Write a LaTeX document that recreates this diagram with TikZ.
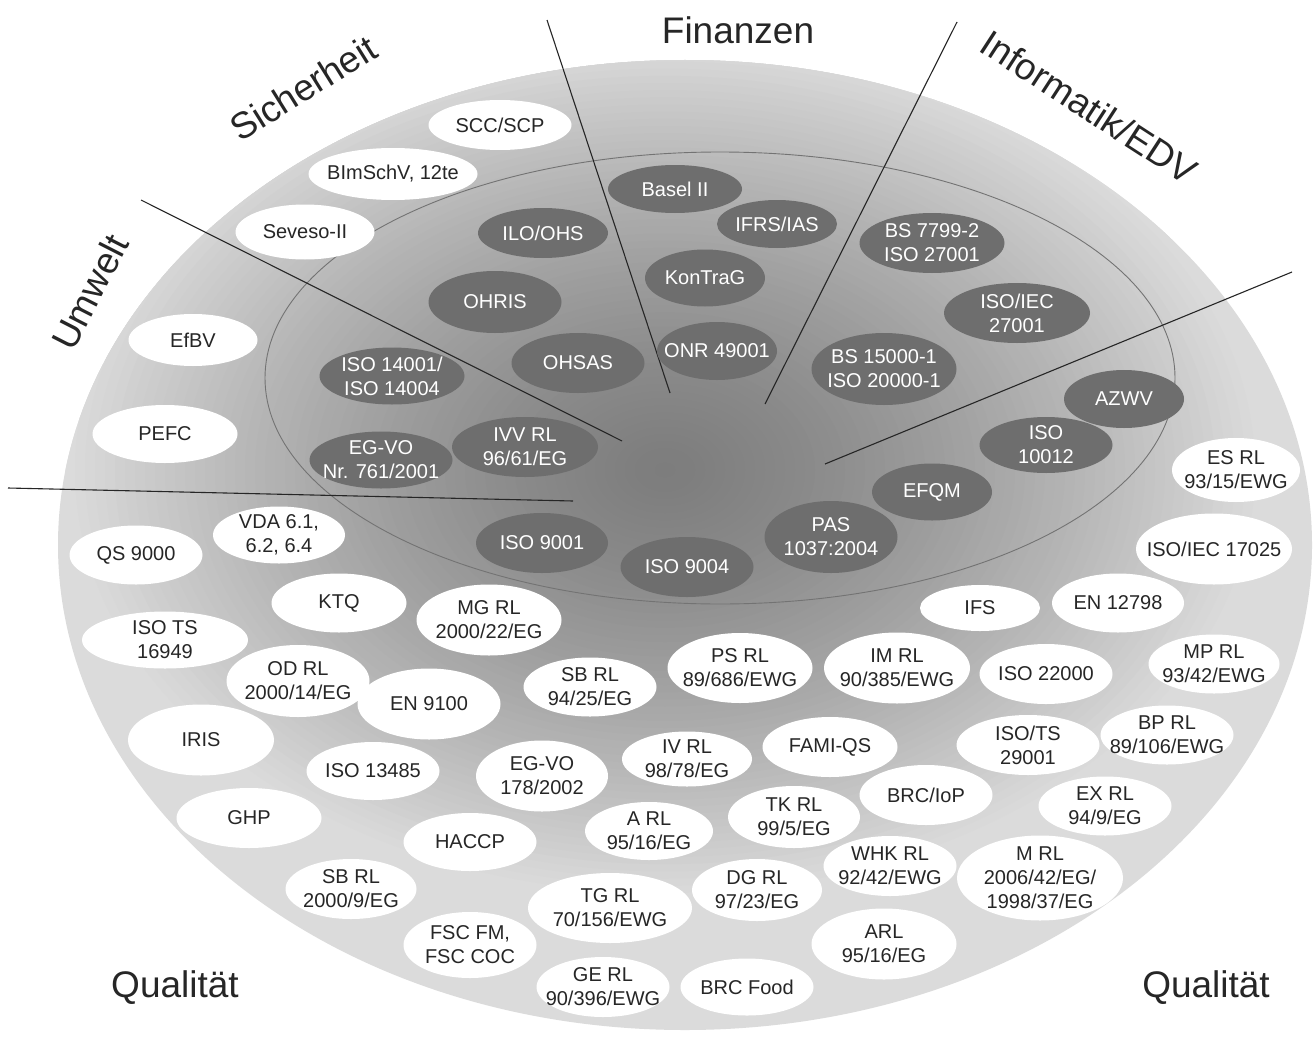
\documentclass[tikz,border=0pt]{standalone}
\usepackage{fontspec}
\setmainfont{Liberation Sans}
\usetikzlibrary{shapes.geometric}
\definecolor{dk}{rgb}{0.43,0.43,0.43}
\definecolor{txt}{rgb}{0.15,0.15,0.15}
\definecolor{ring}{rgb}{0.86,0.86,0.86}
\tikzset{
  blob/.style={ellipse, inner xsep=-30pt, inner ysep=-25pt, outer sep=0pt, align=center,
    font=\fontsize{20}{24}\selectfont},
  dkb/.style={blob, fill=dk, text=white},
  wtb/.style={blob, fill=white, text=txt},
  sz/.style 2 args={minimum width=#1, minimum height=#2},
  sector/.style={font=\fontsize{37}{40}\selectfont, text=txt},
  divider/.style={draw=txt, line width=1.1pt},
}
\begin{document}
\begin{tikzpicture}[x=1pt,y=-1pt]
\useasboundingbox (0,0) rectangle (1316,1038);
\fill[white] (0,0) rectangle (1316,1038);
% outer disc with hub gradient
\fill[ring] (685,545) ellipse [x radius=627, y radius=485];
\begin{scope}
  \clip (685,545) ellipse [x radius=627, y radius=485];
  \foreach \i in {60,59,...,1}{
    \pgfmathsetmacro{\f}{\i/60}
    \pgfmathsetmacro{\g}{0.49+0.37*(\f^1.4)}
    \fill[color={rgb,1:red,\g;green,\g;blue,\g}] (665,470) ellipse [x radius=600*\f, y radius=430*\f];
  }
\end{scope}
% inner ring outline
\draw[draw=black!55, line width=0.9pt] (720,378) ellipse [x radius=455, y radius=226];

% dividers
\coordinate (d1a) at (141,200); \coordinate (d1b) at (622,441);
\coordinate (d2a) at (8,488);   \coordinate (d2b) at (573,501);
\coordinate (d3a) at (547,20);  \coordinate (d3b) at (670,393);
\coordinate (d4a) at (957,22);  \coordinate (d4b) at (765,404);
\coordinate (d5a) at (1292,272);\coordinate (d5b) at (825,464);
\draw[divider] (d1a) -- (d1b);
\draw[divider] (d2a) -- (d2b);
\draw[divider] (d3a) -- (d3b);
\draw[divider] (d4a) -- (d4b);
\draw[divider] (d5a) -- (d5b);

% sector labels
\node[sector] (fin) at (738,30) {Finanzen};
\node[sector, rotate=32] (sich) at (303,88) {Sicherheit};
\node[sector, rotate=63] (umw) at (90,292) {Umwelt};
\node[sector, rotate=-33] (info) at (1089,107) {Informatik/EDV};
\node[sector] (qual1) at (175,988) {Qualität};
\node[sector] (qual2) at (1206,988) {Qualität};

% dark (core) ellipses
\node[dkb, sz={134}{48}] (basel) at (675,189) {Basel II};
\node[dkb, sz={130}{50}] (ilo) at (543,233) {ILO/OHS};
\node[dkb, sz={120}{48}] (ifrs) at (777,224) {IFRS/IAS};
\node[dkb, sz={120}{57}] (kon) at (705,278) {KonTraG};
\node[dkb, sz={133}{62}] (ohris) at (495,302) {OHRIS};
\node[dkb, sz={145}{60}] (bs7799) at (932,243) {BS 7799-2\\ISO 27001};
\node[dkb, sz={146}{60}] (isoiec) at (1017,313) {ISO/IEC\\27001};
\node[dkb, sz={145}{57}] (iso14001) at (392,376) {ISO 14001/\\ISO 14004};
\node[dkb, sz={133}{60}] (ohsas) at (578,363) {OHSAS};
\node[dkb, sz={120}{58}] (onr) at (717,351) {ONR 49001};
\node[dkb, sz={145}{72}] (bs15000) at (884,369) {BS 15000-1\\ISO 20000-1};
\node[dkb, sz={120}{58}] (azwv) at (1124,399) {AZWV};
\node[dkb, sz={133}{56}] (iso10012) at (1046,445) {ISO\\10012};
\node[dkb, sz={143}{57}] (egvo761) at (381,460) {EG-VO\\Nr. 761/2001};
\node[dkb, sz={146}{60}] (ivv) at (525,447) {IVV RL\\96/61/EG};
\node[dkb, sz={120}{57}] (efqm) at (932,492) {EFQM};
\node[dkb, sz={133}{72}] (pas) at (831,537) {PAS\\1037:2004};
\node[dkb, sz={132}{60}] (iso9001) at (542,543) {ISO 9001};
\node[dkb, sz={133}{60}] (iso9004) at (687,567) {ISO 9004};

% white (outer) ellipses
\node[wtb, sz={143}{50}] (scc) at (500,125) {SCC/SCP};
\node[wtb, sz={169}{52}] (bimsch) at (393,174) {BImSchV, 12te};
\node[wtb, sz={139}{55}] (seveso) at (305,232) {Seveso-II};
\node[wtb, sz={129}{52}] (efbv) at (193,340) {EfBV};
\node[wtb, sz={145}{58}] (pefc) at (165,434) {PEFC};
\node[wtb, sz={128}{64}] (esrl) at (1236,470) {ES RL\\93/15/EWG};
\node[wtb, sz={132}{57}] (vda) at (279,535) {VDA 6.1,\\6.2, 6.4};
\node[wtb, sz={133}{59}] (qs) at (136,555) {QS 9000};
\node[wtb, sz={135}{59}] (ktq) at (339,603) {KTQ};
\node[wtb, sz={145}{71}] (mgrl) at (489,620) {MG RL\\2000/22/EG};
\node[wtb, sz={166}{57}] (isots) at (165,640) {ISO TS\\16949};
\node[wtb, sz={143}{72}] (odrl) at (298,681) {OD RL\\2000/14/EG};
\node[wtb, sz={143}{71}] (en9100) at (429,704) {EN 9100};
\node[wtb, sz={133}{59}] (sbrl94) at (590,687) {SB RL\\94/25/EG};
\node[wtb, sz={146}{71}] (iris) at (201,740) {IRIS};
\node[wtb, sz={133}{58}] (iso13485) at (373,771) {ISO 13485};
\node[wtb, sz={132}{71}] (egvo178) at (542,776) {EG-VO\\178/2002};
\node[wtb, sz={145}{60}] (ghp) at (249,818) {GHP};
\node[wtb, sz={133}{58}] (haccp) at (470,842) {HACCP};
\node[wtb, sz={131}{60}] (sbrl2000) at (351,889) {SB RL\\2000/9/EG};
\node[wtb, sz={133}{66}] (fsc) at (470,945) {FSC FM,\\FSC COC};
\node[wtb, sz={164}{70}] (tgrl) at (610,908) {TG RL\\70/156/EWG};
\node[wtb, sz={133}{60}] (gerl) at (603,987) {GE RL\\90/396/EWG};
\node[wtb, sz={133}{57}] (brcfood) at (747,987) {BRC Food};
\node[wtb, sz={128}{58}] (arl95) at (649,831) {A RL\\95/16/EG};
\node[wtb, sz={130}{55}] (ivrl) at (687,759) {IV RL\\98/78/EG};
\node[wtb, sz={145}{70}] (psrl) at (740,668) {PS RL\\89/686/EWG};
\node[wtb, sz={146}{71}] (imrl) at (897,668) {IM RL\\90/385/EWG};
\node[wtb, sz={120}{46}] (ifs) at (980,608) {IFS};
\node[wtb, sz={132}{59}] (en12798) at (1118,603) {EN 12798};
\node[wtb, sz={156}{71}] (isoiec17025) at (1214,549) {ISO/IEC 17025};
\node[wtb, sz={133}{60}] (iso22000) at (1046,674) {ISO 22000};
\node[wtb, sz={131}{59}] (mprl) at (1214,664) {MP RL\\93/42/EWG};
\node[wtb, sz={135}{60}] (famiqs) at (830,747) {FAMI-QS};
\node[wtb, sz={143}{60}] (isots29001) at (1028,745) {ISO/TS\\29001};
\node[wtb, sz={133}{59}] (bprl) at (1167,735) {BP RL\\89/106/EWG};
\node[wtb, sz={133}{60}] (brciop) at (926,795) {BRC/IoP};
\node[wtb, sz={132}{62}] (tkrl) at (794,817) {TK RL\\99/5/EG};
\node[wtb, sz={133}{59}] (exrl) at (1105,806) {EX RL\\94/9/EG};
\node[wtb, sz={133}{60}] (whkrl) at (890,866) {WHK RL\\92/42/EWG};
\node[wtb, sz={166}{85}] (mrl) at (1040,878) {M RL\\2006/42/EG/\\1998/37/EG};
\node[wtb, sz={130}{62}] (dgrl) at (757,890) {DG RL\\97/23/EG};
\node[wtb, sz={145}{71}] (arl) at (884,944) {ARL\\95/16/EG};
\end{tikzpicture}
\end{document}
